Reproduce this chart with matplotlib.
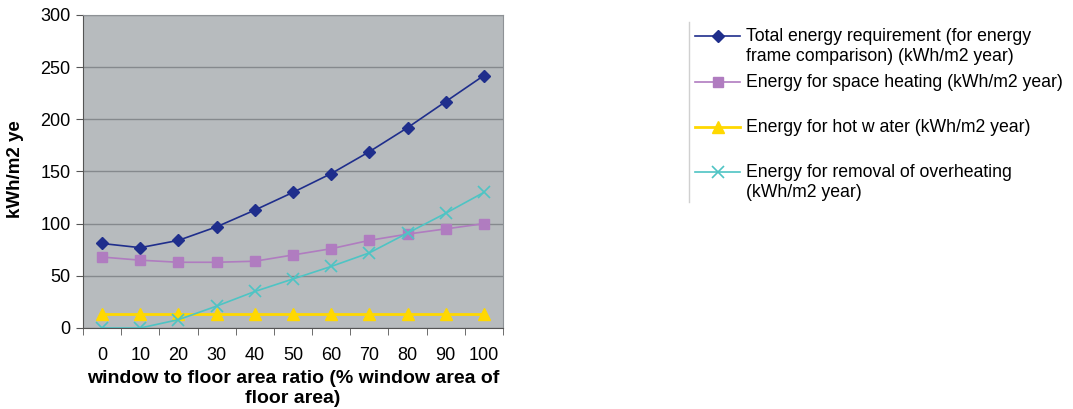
import numpy as np
import matplotlib
matplotlib.use("Agg")
import matplotlib.pyplot as plt
from matplotlib.lines import Line2D
from matplotlib.transforms import Bbox

plt.rcParams['font.family'] = ['Liberation Sans', 'DejaVu Sans']

# data
ratio = [0, 10, 20, 30, 40, 50, 60, 70, 80, 90, 100]
total = [81, 77, 84, 97, 113, 130, 148, 169, 192, 217, 242]
heating = [68, 65, 63, 63, 64, 70, 76, 84, 90, 95, 100]
hot_water = [13, 13, 13, 13, 13, 13, 13, 13, 13, 13, 13]
overheat = [0, 0, 8, 21, 35, 47, 59, 72, 91, 110, 130]

labels = ["Total energy requirement (for energy\nframe comparison) (kWh/m2 year)",
          "Energy for space heating (kWh/m2 year)",
          "Energy for hot w ater (kWh/m2 year)",
          "Energy for removal of overheating\n(kWh/m2 year)"]

W, H = 1073, 409
fig = plt.figure(figsize=(W / 100, H / 100), dpi=100)
ax = fig.add_axes([83 / W, 1 - 328 / H, 420 / W, 313 / H])
ax.set_facecolor('#B7BBBE')

x = np.arange(len(ratio))
ax.plot(x, total, color='#1F2E8C', marker='D', ms=6, lw=1.2, label=labels[0])
ax.plot(x, heating, color='#B07CC0', marker='s', ms=7, lw=1.2, label=labels[1])
ax.plot(x, hot_water, color='#FFD800', marker='^', ms=8, lw=2, label=labels[2])
ax.plot(x, overheat, color='#4EC4C4', marker='x', ms=8, mew=1.2, lw=1.2, label=labels[3])

ax.set_xlim(-0.5, len(ratio) - 0.5)
ax.set_ylim(0, 300)
ax.set_yticks(range(0, 301, 50))
ax.set_xticks(x)
ax.set_xticklabels([str(r) for r in ratio])
ax.set_xticks(np.arange(-0.5, len(ratio)), minor=True)
ax.tick_params(axis='x', which='major', length=0, pad=14, labelsize=13)
ax.tick_params(axis='x', which='minor', length=5, color='#555555')
ax.tick_params(axis='y', length=5, color='#555555', labelsize=13, pad=4)
ax.yaxis.grid(True, color='#85898D', lw=1)
ax.set_axisbelow(True)
for s in ['top', 'right']:
    ax.spines[s].set_color('#8E9296')
for s in ['left', 'bottom']:
    ax.spines[s].set_color('#555555')

ax.set_xlabel("window to floor area ratio (% window area of\nfloor area)",
              fontsize=14, fontweight='bold', labelpad=4, linespacing=1.25)

# y label is cut off at the top in the original
yl = fig.text(16 / W, 1 - 218 / H, "kWh/m2 year", rotation=90, fontsize=13.5,
              fontweight='bold', ha='center', va='bottom')
yl.set_clip_box(Bbox([[0, 0], [60, H - 121]]))
yl.set_clip_on(True)

# legend, drawn by hand like the Excel one
fig.add_artist(Line2D([689 / W, 689 / W], [1 - 22 / H, 1 - 202 / H],
                      color='#D0D0D0', lw=1, transform=fig.transFigure))
ys = [36, 82, 127, 172]
for line, lab, yy in zip(ax.get_lines(), labels, ys):
    yf = 1 - yy / H
    fig.add_artist(Line2D([695 / W, 740 / W], [yf, yf], color=line.get_color(),
                          lw=line.get_linewidth(), transform=fig.transFigure))
    fig.add_artist(Line2D([717.5 / W], [yf], color=line.get_color(), ls='none',
                          marker=line.get_marker(), ms=line.get_markersize(),
                          mew=line.get_markeredgewidth(), transform=fig.transFigure))
    fig.text(746 / W, yf + 8 / H, lab, fontsize=12.7, va='top', linespacing=1.22)

fig.savefig("out.png", dpi=100)
